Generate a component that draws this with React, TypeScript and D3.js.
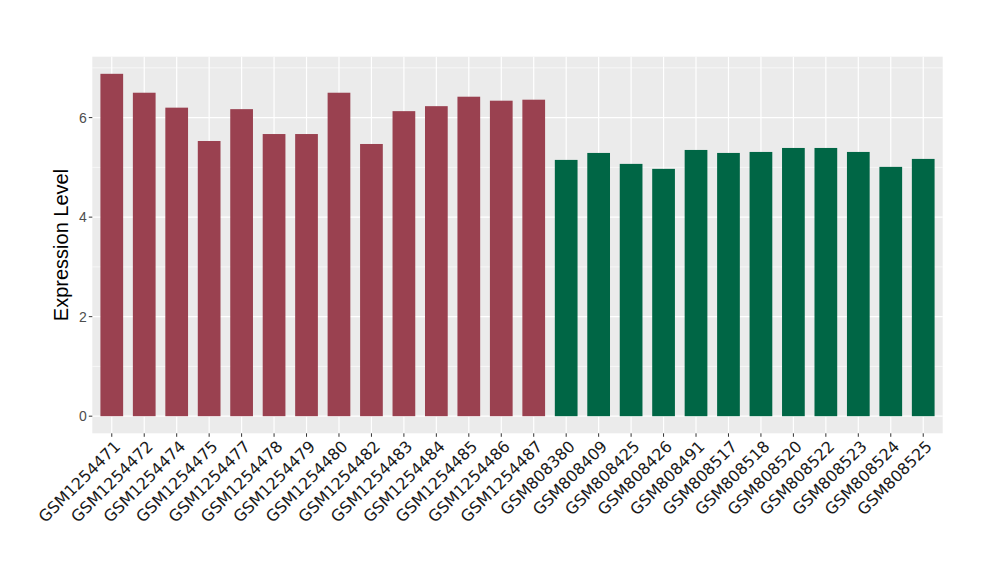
import React from "react";
import * as d3 from "d3";

const samples = [
  "GSM1254471","GSM1254472","GSM1254474","GSM1254475","GSM1254477","GSM1254478","GSM1254479",
  "GSM1254480","GSM1254482","GSM1254483","GSM1254484","GSM1254485","GSM1254486","GSM1254487",
  "GSM808380","GSM808409","GSM808425","GSM808426","GSM808491","GSM808517","GSM808518",
  "GSM808520","GSM808522","GSM808523","GSM808524","GSM808525",
];
const values = [
  6.88, 6.50, 6.20, 5.53, 6.17, 5.67, 5.67, 6.50, 5.47, 6.13, 6.23, 6.42, 6.34, 6.36,
  5.15, 5.29, 5.07, 4.97, 5.35, 5.29, 5.31, 5.39, 5.39, 5.31, 5.01, 5.17,
];
const groups = [
  "A","A","A","A","A","A","A","A","A","A","A","A","A","A",
  "B","B","B","B","B","B","B","B","B","B","B","B",
];
const groupColors: Record<string, string> = { A: "#9A4150", B: "#006645" };
const yTicks = [0, 2, 4, 6];
const yMinor = [1, 3, 5, 7];

export default function App() {
  const W = 1000, H = 580;
  const left = 92.3, right = 942.7, top = 56.7, bottom = 433.3;
  const n = samples.length;
  const maxV = d3.max(values) as number;
  const pad = maxV * 0.05;
  const y = d3.scaleLinear().domain([-pad, maxV + pad]).range([bottom, top]);
  const step = (right - left) / (n - 1 + 1.2);
  const x = d3.scalePoint<string>().domain(samples).range([left + 0.6 * step, right - 0.6 * step]);
  const bw = step * 0.7;
  const font = "'Liberation Sans', Arial, sans-serif";
  const labelFont = "'DejaVu Sans', sans-serif";

  return (
    <svg width={W} height={H} style={{ display: "block", position: "absolute", left: 0, top: 0 }} fontFamily={font}>
      <rect x={0} y={0} width={W} height={H} fill="#ffffff" />
      <rect x={left} y={top} width={right - left} height={bottom - top} fill="#EBEBEB" />
      {yMinor.map((t) => (
        y(t) >= top ? <line key={"mi" + t} x1={left} x2={right} y1={y(t)} y2={y(t)} stroke="#ffffff" strokeWidth={0.6} /> : null
      ))}
      {yTicks.map((t) => (
        <line key={"ma" + t} x1={left} x2={right} y1={y(t)} y2={y(t)} stroke="#ffffff" strokeWidth={1.2} />
      ))}
      {samples.map((s) => (
        <line key={"vg" + s} x1={x(s)!} x2={x(s)!} y1={top} y2={bottom} stroke="#ffffff" strokeWidth={1.2} />
      ))}
      {samples.map((s, i) => (
        <rect key={"b" + s} x={x(s)! - bw / 2} y={y(values[i])} width={bw} height={y(0) - y(values[i])} fill={groupColors[groups[i]]} />
      ))}
      {yTicks.map((t) => (
        <g key={"yt" + t}>
          <line x1={left - 3.5} x2={left} y1={y(t)} y2={y(t)} stroke="#333333" strokeWidth={1} />
          <text x={left - 5.5} y={y(t)} dy="0.36em" textAnchor="end" fontSize={14} fill="#4D4D4D">{t}</text>
        </g>
      ))}
      {samples.map((s) => (
        <g key={"xt" + s}>
          <line x1={x(s)!} x2={x(s)!} y1={bottom} y2={bottom + 3.5} stroke="#333333" strokeWidth={1} />
          <text fontFamily={labelFont} transform={`translate(${x(s)! + 1.5},${bottom + 6}) rotate(-45)`} textAnchor="end" dy="0.72em" fontSize={16} fill="#1a1a1a">{s}</text>
        </g>
      ))}
      <text transform={`translate(68,${(top + bottom) / 2}) rotate(-90)`} textAnchor="middle" fontSize={20} fill="#000000">Expression Level</text>
    </svg>
  );
}
